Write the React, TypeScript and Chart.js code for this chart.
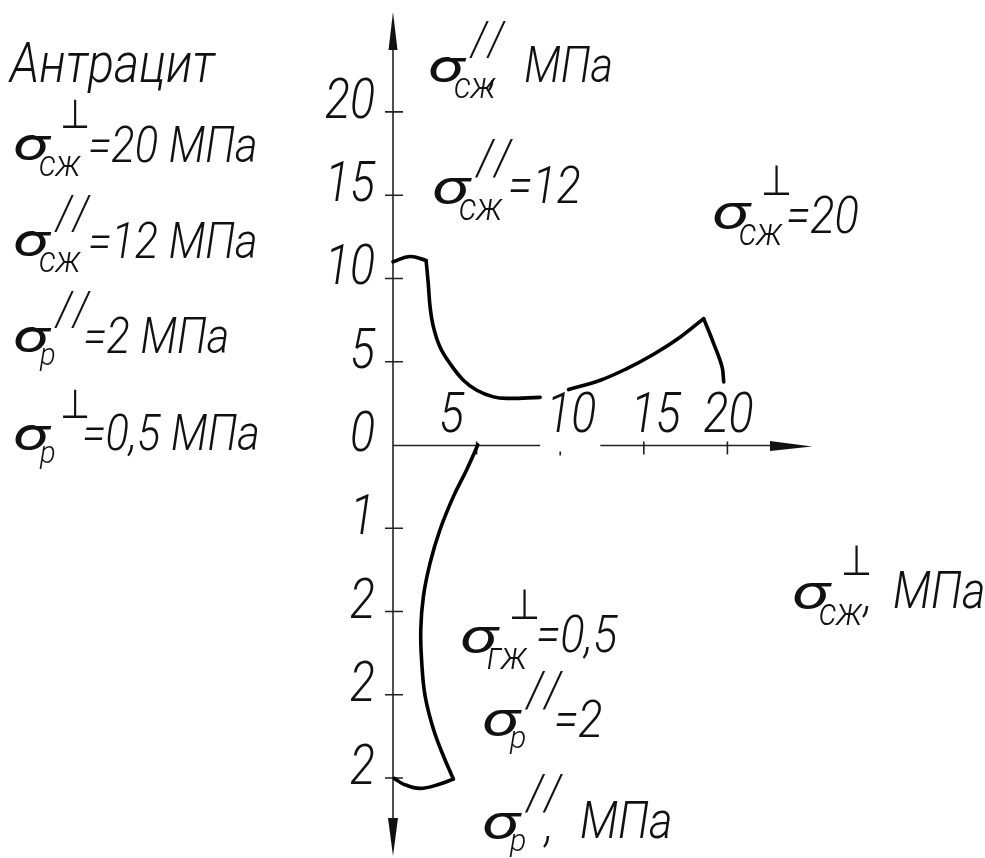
import React, { useEffect, useRef } from "react";
import { Chart, registerables } from "chart.js";

Chart.register(...registerables);

// ---------- data ----------
// σ∥сж curve: flat top, then steep drop
const compParTopX = [0, 1.02, 1.98];
const compParTopY = [11.0, 11.32, 11.08];
const compParDropX = [1.98, 2.11, 2.22, 2.42, 2.81, 3.41, 4.21, 5.01, 6.01, 6.81, 8.8];
const compParDropY = [11.08, 9.68, 8.28, 7.08, 5.89, 4.89, 3.89, 3.29, 2.89, 2.8, 2.86];
// σ⊥сж curve: rise then fall
const compPerpRiseX = [10.5, 12.4, 13.99, 15.59, 17.19, 18.58];
const compPerpRiseY = [3.33, 3.89, 4.59, 5.45, 6.49, 7.59];
const compPerpFallX = [18.58, 19.18, 19.68, 19.78];
const compPerpFallY = [7.59, 6.09, 4.69, 3.79];
// σр (tension) curve below the axis
const tensSideX = [5.07, 4.4, 3.61, 2.81, 2.22, 1.82, 1.66, 1.72, 1.92, 2.42, 3.01, 3.61];
const tensSideY = [0, -1.5, -3.1, -5.09, -7.08, -9.08, -11.08, -13.07, -15.07, -17.07, -18.66, -20.06];
const tensBaseX = [3.61, 2.81, 1.62, 0.62, 0.08];
const tensBaseY = [-20.06, -20.36, -20.62, -20.36, -20.02];

// axis ticks
const yTickValues = [20, 15, 10, 5, 0, -5, -10, -15, -20];
const yTickLabels = ["20", "15", "10", "5", "0", "1", "2", "2", "2"];
const xTickValues = [5, 10, 15, 20];
const xTickLabels = ["5", "10", "15", "20"];

// ---------- styling constants ----------
const X_MIN = 0;
const X_MAX = 25;
const Y_MIN = -24.8;
const Y_MAX = 26;
const xLabelShift = [-25, 11, 12, 1];
const xAxisSegments = [
  [0, 8.8],
  [12.4, 25],
];
const FONT = "Roboto, 'DejaVu Sans', sans-serif";
const INK = "#111";

function pts(xs: number[], ys: number[]) {
  return xs.map((x, i) => ({ x, y: ys[i] }));
}

function drawText(
  ctx: CanvasRenderingContext2D,
  s: string,
  x: number,
  y: number,
  size: number,
  weight = 300,
  sx = 0.87,
  align: CanvasTextAlign = "left",
  spacing = 0
) {
  ctx.save();
  ctx.font = `italic ${weight} ${size}px ${FONT}`;
  (ctx as any).letterSpacing = `${spacing}px`;
  ctx.translate(x, y);
  ctx.scale(sx, 1);
  ctx.textAlign = align;
  ctx.textBaseline = "alphabetic";
  ctx.fillStyle = INK;
  ctx.fillText(s, 0, 0);
  ctx.restore();
}

type SigLabel = {
  x: number;
  y: number;
  sup: string;
  sub: string;
  runs: [string, number, number][];
  size: number;
};

const sigmaLabels: SigLabel[] = [
  { x: 13, y: 160, sup: "⊥", sub: "сж", runs: [["=20 МПа", 78, 2]], size: 50 },
  { x: 13, y: 256, sup: "//", sub: "сж", runs: [["=12 МПа", 78, 2]], size: 50 },
  { x: 13, y: 352, sup: "//", sub: "р", runs: [["=2 МПа", 73, 1]], size: 50 },
  { x: 13, y: 450, sup: "⊥", sub: "р", runs: [["=0,5 МПа", 72, 0]], size: 50 },
  { x: 428, y: 82, sup: "//", sub: "сж", runs: [[",", 64, 3], ["МПа", 100, 0]], size: 50 },
  { x: 432, y: 203, sup: "//", sub: "сж", runs: [["=12", 76, 0]], size: 52 },
  { x: 712, y: 228, sup: "⊥", sub: "сж", runs: [["=20", 74, 5]], size: 52 },
  { x: 460, y: 652, sup: "⊥", sub: "гж", runs: [["=0,5", 76, 0]], size: 52 },
  { x: 482, y: 735, sup: "//", sub: "р", runs: [["=2", 72, 2]], size: 52 },
  { x: 482, y: 838, sup: "//", sub: "р", runs: [[",", 63, 3], ["МПа", 98, 0]], size: 52 },
  { x: 792, y: 608, sup: "⊥", sub: "сж", runs: [[",", 72, 3], ["МПа", 101, 0]], size: 52 },
];

function drawSigma(ctx: CanvasRenderingContext2D, L: SigLabel) {
  const s = L.size / 52;
  drawText(ctx, "σ", L.x, L.y, 48 * s, 400, 1.42);
  if (L.sub === "р") {
    drawText(ctx, L.sub, L.x + 28 * s, L.y + 13 * s, 32 * s, 300, 0.95);
  } else {
    drawText(ctx, L.sub, L.x + 27 * s, L.y + 17 * s, 38 * s, 300, 0.92);
  }
  if (L.sup === "⊥") {
    drawText(ctx, "⊥", L.x + 49 * s, L.y - 33 * s, 42 * s, 300, 0.85);
  } else {
    drawText(ctx, "//", L.x + 45 * s, L.y - 28 * s, 50 * s, 300, 0.85, "left", 7 * s);
  }
  for (const [t, dx, dy] of L.runs) {
    drawText(ctx, t, L.x + dx * s, L.y + dy * s, L.size, 300, 0.87);
  }
}

const axesPlugin = {
  id: "handAxes",
  beforeDatasetsDraw(chart: any) {
    const { ctx, chartArea } = chart;
    const xs = chart.scales.x;
    const ys = chart.scales.y;
    const x0 = xs.getPixelForValue(0);
    const y0 = ys.getPixelForValue(0) + 0.5;
    const top = chartArea.top;
    const bottom = chartArea.bottom - 2;
    const right = chartArea.right;
    ctx.save();
    ctx.strokeStyle = "#222";
    ctx.fillStyle = "#111";
    ctx.lineWidth = 1.6;
    // vertical axis
    ctx.beginPath();
    ctx.moveTo(x0, top + 30);
    ctx.lineTo(x0, bottom - 30);
    ctx.stroke();
    // horizontal axis (broken as in the drawing)
    ctx.beginPath();
    for (const [a, b] of xAxisSegments) {
      ctx.moveTo(xs.getPixelForValue(a), y0);
      ctx.lineTo(Math.min(xs.getPixelForValue(b), right - 35), y0);
    }
    ctx.stroke();
    // y ticks (crossing the axis)
    ctx.beginPath();
    yTickValues.forEach((v) => {
      if (v === 0) return;
      const py = ys.getPixelForValue(v);
      ctx.moveTo(x0 - 8, py);
      ctx.lineTo(x0 + 10, py);
    });
    ctx.stroke();
    // x ticks
    ctx.beginPath();
    xTickValues.forEach((v, i) => {
      const px = xs.getPixelForValue(v);
      if (i === 1) {
        ctx.moveTo(px, y0 + 6);
        ctx.lineTo(px, y0 + 10);
      } else {
        ctx.moveTo(px, y0 - 4);
        ctx.lineTo(px, y0 + 9);
      }
    });
    ctx.stroke();
    // arrowheads
    ctx.beginPath();
    ctx.moveTo(x0, top);
    ctx.lineTo(x0 - 4.5, top + 38);
    ctx.lineTo(x0 + 4.5, top + 38);
    ctx.closePath();
    ctx.fill();
    ctx.beginPath();
    ctx.moveTo(x0, bottom);
    ctx.lineTo(x0 - 5, bottom - 38);
    ctx.lineTo(x0 + 5, bottom - 38);
    ctx.closePath();
    ctx.fill();
    ctx.beginPath();
    ctx.moveTo(right + 1, y0 + 1);
    ctx.lineTo(right - 41, y0 - 4.5);
    ctx.lineTo(right - 41, y0 + 5.5);
    ctx.closePath();
    ctx.fill();
    ctx.restore();
  },
  afterDraw(chart: any) {
    const { ctx } = chart;
    const xs = chart.scales.x;
    const ys = chart.scales.y;
    const x0 = xs.getPixelForValue(0);
    const y0 = ys.getPixelForValue(0);
    // y tick labels
    yTickValues.forEach((v, i) => {
      const py = ys.getPixelForValue(v);
      drawText(ctx, yTickLabels[i], x0 - 18, py + 6, 56, 300, 0.83, "right");
    });
    // x tick labels (above the axis)
    xTickValues.forEach((v, i) => {
      const px = xs.getPixelForValue(v) + xLabelShift[i];
      drawText(ctx, xTickLabels[i], px, y0 - 13, 56, 300, 0.83, "center");
    });
    // title / annotations
    drawText(ctx, "Антрацит", 10, 82, 55, 300, 0.88);
    sigmaLabels.forEach((L) => drawSigma(ctx, L));
  },
};

export default function App() {
  const ref = useRef<HTMLCanvasElement>(null);
  useEffect(() => {
    document.body.style.margin = "0";
    document.body.style.overflow = "hidden";
    const canvas = ref.current;
    if (!canvas) return;
    const line = (xs: number[], ys: number[], label: string) => ({
      label,
      data: pts(xs, ys),
      showLine: true,
      borderColor: "#000",
      backgroundColor: "#000",
      borderWidth: 3.6,
      pointRadius: 0,
      tension: 0.4,
      fill: false,
      clip: false as any,
      borderCapStyle: "round" as CanvasLineCap,
      borderJoinStyle: "round" as CanvasLineJoin,
    });
    const chart = new Chart(canvas, {
      type: "scatter",
      data: {
        datasets: [
          line(compParTopX, compParTopY, "σ∥сж top"),
          line(compParDropX, compParDropY, "σ∥сж drop"),
          line(compPerpRiseX, compPerpRiseY, "σ⊥сж rise"),
          line(compPerpFallX, compPerpFallY, "σ⊥сж fall"),
          line(tensSideX, tensSideY, "σр side"),
          line(tensBaseX, tensBaseY, "σр base"),
        ],
      },
      options: {
        responsive: false,
        animation: false,
        devicePixelRatio: 1,
        layout: { padding: { left: 393, right: 174, top: 12, bottom: 0 } },
        plugins: {
          legend: { display: false },
          tooltip: { enabled: false },
        },
        events: [],
        scales: {
          x: { type: "linear", min: X_MIN, max: X_MAX, display: false },
          y: { type: "linear", min: Y_MIN, max: Y_MAX, display: false },
        },
      },
      plugins: [axesPlugin],
    });
    return () => chart.destroy();
  }, []);
  return (
    <div style={{ width: 985, height: 858, background: "#fff" }}>
      <canvas ref={ref} width={985} height={858} style={{ display: "block", width: 985, height: 858 }} />
    </div>
  );
}
